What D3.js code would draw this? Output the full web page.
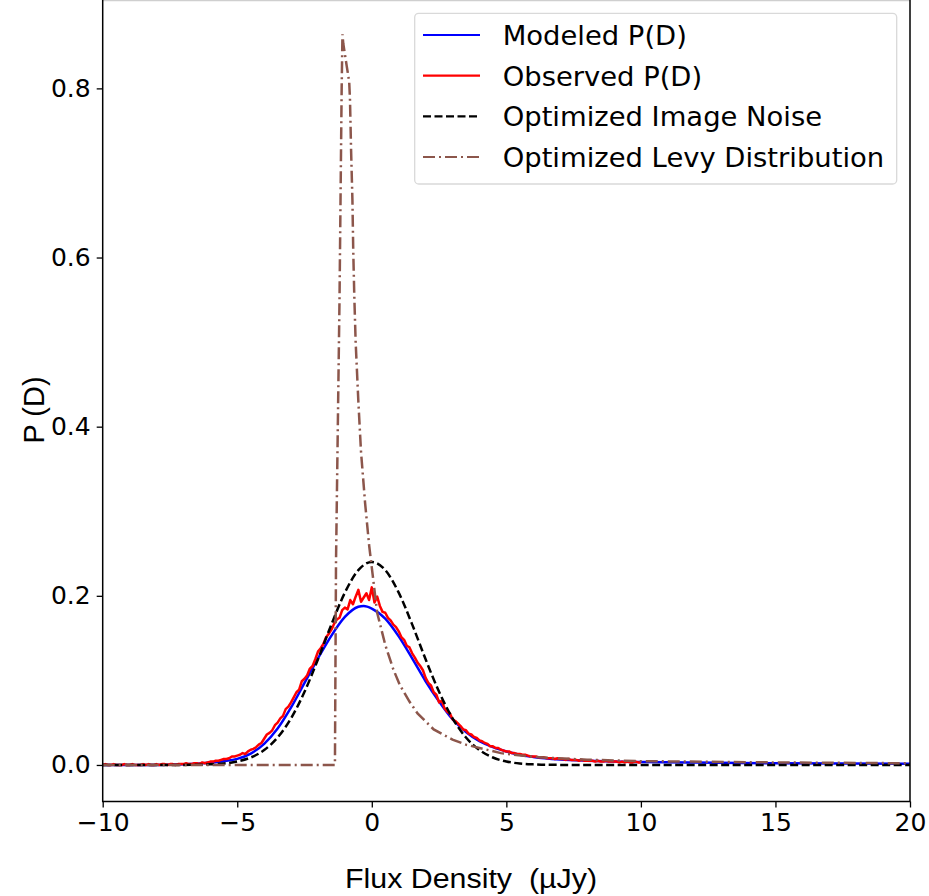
<!DOCTYPE html>
<html>
<head>
<meta charset="utf-8">
<script src="https://cdn.jsdelivr.net/npm/d3@7"></script>
<style>
  body { margin: 0; background: #fff; }
</style>
</head>
<body>
<div id="chart"></div>
<script>
// Modeled P(D): [flux, probability]
const modeledPD = [[-10,0],[-9,0],[-8,0.0001],[-7.5,0.0003],[-7,0.0007],[-6.5,0.0015],[-6,0.0028],
  [-5.5,0.0045],[-5,0.0072],[-4.5,0.0135],[-4,0.025],[-3.5,0.043],[-3,0.068],[-2.5,0.097],[-2,0.126],
  [-1.5,0.153],[-1,0.175],[-0.5,0.187],[-0.3,0.188],[0,0.185],[0.5,0.173],[1,0.152],[1.5,0.126],
  [2,0.099],[2.5,0.075],[3,0.054],[3.5,0.039],[4,0.028],[4.5,0.021],[5,0.016],[5.5,0.012],[6,0.0095],
  [7,0.0065],[8,0.005],[9,0.004],[10,0.0035],[12,0.0028],[15,0.002],[20,0.0014]];

// Observed P(D): one value every 0.1 from -10 to 10
const observedStart = -10, observedStep = 0.1;
const observedPD = [
  0.000,0.001,0.000,0.000,0.001,0.000,0.000,0.000,0.001,0.000,
  0.000,0.001,0.000,0.000,0.000,0.001,0.000,0.001,0.000,0.000,
  0.001,0.000,0.001,0.001,0.000,0.001,0.001,0.000,0.001,0.001,
  0.001,0.002,0.001,0.001,0.002,0.002,0.001,0.003,0.002,0.003,
  0.004,0.004,0.005,0.005,0.006,0.007,0.007,0.008,0.010,0.010,
  0.011,0.012,0.014,0.013,0.016,0.018,0.019,0.021,0.024,0.026,
  0.031,0.036,0.038,0.041,0.047,0.050,0.055,0.058,0.066,0.069,
  0.074,0.080,0.086,0.089,0.099,0.102,0.106,0.114,0.117,0.125,
  0.134,0.138,0.143,0.151,0.155,0.160,0.167,0.172,0.174,0.183,
  0.186,0.184,0.195,0.190,0.199,0.207,0.193,0.198,0.203,0.195,
  0.210,0.192,0.199,0.188,0.181,0.180,0.174,0.171,0.166,0.163,
  0.158,0.151,0.148,0.141,0.139,0.132,0.127,0.121,0.117,0.112,
  0.103,0.097,0.094,0.086,0.083,0.074,0.076,0.067,0.063,0.061,
  0.054,0.052,0.049,0.046,0.042,0.041,0.037,0.036,0.033,0.032,
  0.029,0.028,0.026,0.025,0.022,0.022,0.020,0.020,0.018,0.017,
  0.016,0.016,0.014,0.014,0.013,0.013,0.012,0.012,0.011,0.010,
  0.010,0.010,0.009,0.009,0.009,0.008,0.008,0.008,0.007,0.008,
  0.007,0.007,0.006,0.007,0.006,0.006,0.006,0.005,0.006,0.005,
  0.005,0.005,0.005,0.004,0.005,0.004,0.004,0.005,0.004,0.004,
  0.004,0.004,0.003,0.004,0.003,0.004,0.003,0.003,0.004,0.003,
  0.003];

// Optimized image noise
const noisePD = [[-10,0],[-8,0],[-7,0.0001],[-6.5,0.0002],[-6,0.0007],[-5.5,0.0017],[-5,0.0041],
  [-4.5,0.0088],[-4,0.0176],[-3.5,0.0325],[-3,0.0552],[-2.5,0.0865],[-2,0.1249],[-1.5,0.1662],
  [-1,0.2038],[-0.5,0.2304],[0,0.240],[0.5,0.2304],[1,0.2038],[1.5,0.1662],[2,0.1249],[2.5,0.0865],
  [3,0.0552],[3.5,0.0325],[4,0.0176],[4.5,0.0088],[5,0.0041],[5.5,0.0017],[6,0.0007],[6.5,0.0002],
  [7,0.0001],[8,0],[20,0]];

// Optimized Levy distribution
const levyPD = [[-10,0],[-1.37,0],[-1.33,0.24],[-1.2,0.55],[-1.12,0.8],[-1.09,0.864],[-1.06,0.853],
  [-0.93,0.826],[-0.84,0.808],[-0.81,0.786],[-0.77,0.727],[-0.72,0.668],[-0.69,0.609],[-0.65,0.554],
  [-0.6,0.5],[-0.5,0.43],[-0.4,0.37],[-0.25,0.31],[-0.1,0.26],[0.05,0.22],[0.2,0.18],[0.5,0.142],
  [0.8,0.113],[1.05,0.094],[1.4,0.075],[1.7,0.061],[2.3,0.042],[3,0.030],[3.5,0.024],[4.8,0.014],
  [6,0.0095],[8,0.0062],[10,0.0045],[15,0.003],[20,0.002]];

const xTicks = [-10, -5, 0, 5, 10, 15, 20];
const yTicks = [0, 0.2, 0.4, 0.6, 0.8];

const legendItems = [
  {label: "Modeled P(D)", color: "#0000ff", dash: null},
  {label: "Observed P(D)", color: "#ff0000", dash: null},
  {label: "Optimized Image Noise", color: "#000000", dash: "8,3.5"},
  {label: "Optimized Levy Distribution", color: "#8c564b", dash: "12,4,2,4"}
];

const width = 929, height = 896;
const plot = {left: 102.7, right: 910, top: 0, bottom: 801.5};

const svg = d3.select("#chart").append("svg")
  .attr("width", width)
  .attr("height", height);

const x = d3.scaleLinear().domain([-10, 20]).range([plot.left, plot.right]);
const y = d3.scaleLinear().domain([-0.0432, 0.9045]).range([plot.bottom, plot.top]);

svg.append("clipPath").attr("id", "clip")
  .append("rect")
  .attr("x", plot.left).attr("y", plot.top)
  .attr("width", plot.right - plot.left).attr("height", plot.bottom - plot.top);

const line = d3.line().x(d => x(d[0])).y(d => y(d[1]));
const smooth = d3.line().x(d => x(d[0])).y(d => y(d[1])).curve(d3.curveMonotoneX);

const observed = observedPD.map((v, i) => [observedStart + i * observedStep, v]);

const g = svg.append("g").attr("clip-path", "url(#clip)");

g.append("path").datum(modeledPD)
  .attr("d", smooth).attr("fill", "none")
  .attr("stroke", "#0000ff").attr("stroke-width", 2.5);

g.append("path").datum(observed)
  .attr("d", line).attr("fill", "none")
  .attr("stroke", "#ff0000").attr("stroke-width", 2.5)
  .attr("stroke-linejoin", "round");

g.append("path").datum(noisePD)
  .attr("d", smooth).attr("fill", "none")
  .attr("stroke", "#000").attr("stroke-width", 2.5)
  .attr("stroke-dasharray", "8,3.5");

g.append("path").datum(levyPD)
  .attr("d", line).attr("fill", "none")
  .attr("stroke", "#8c564b").attr("stroke-width", 2.5)
  .attr("stroke-dasharray", "12,4,2,4");

// axes
const xAxis = svg.append("g")
  .attr("transform", `translate(0,${plot.bottom})`)
  .call(d3.axisBottom(x).tickValues(xTicks).tickSize(6).tickPadding(6)
    .tickFormat(d => d < 0 ? "\u2212" + Math.abs(d) : d));

const yAxis = svg.append("g")
  .attr("transform", `translate(${plot.left},0)`)
  .call(d3.axisLeft(y).tickValues(yTicks).tickSize(6).tickPadding(6)
    .tickFormat(d3.format(".1f")));

[xAxis, yAxis].forEach(a => {
  a.select(".domain").remove();
  a.selectAll(".tick line").attr("stroke", "#000").attr("stroke-width", 1.3);
  a.selectAll(".tick text")
    .attr("fill", "#000")
    .style("font-family", "'DejaVu Sans', sans-serif")
    .style("font-size", "25px");
});

// spines
svg.append("line").attr("x1", plot.left).attr("x2", plot.right)
  .attr("y1", 0.5).attr("y2", 0.5).attr("stroke", "#cfcfcf").attr("stroke-width", 1.3);
svg.append("path")
  .attr("d", `M${plot.left},${plot.top}V${plot.bottom}H${plot.right}V${plot.top}`)
  .attr("fill", "none").attr("stroke", "#000").attr("stroke-width", 1.5);

// axis labels
svg.append("text")
  .attr("x", 471).attr("y", 888)
  .attr("text-anchor", "middle")
  .attr("textLength", 252).attr("lengthAdjust", "spacingAndGlyphs")
  .style("white-space", "pre")
  .style("font-family", "'Liberation Sans', Arial, sans-serif")
  .style("font-size", "27px")
  .text("Flux Density  (\u00b5Jy)");

svg.append("text")
  .attr("transform", "translate(44,410) rotate(-90)")
  .attr("text-anchor", "middle")
  .style("font-family", "'Liberation Sans', Arial, sans-serif")
  .style("font-size", "29px")
  .text("P (D)");

// legend
const legend = svg.append("g");
legend.append("rect")
  .attr("x", 414.7).attr("y", 13.3)
  .attr("width", 482).attr("height", 170.7)
  .attr("rx", 4)
  .attr("fill", "#fff").attr("fill-opacity", 0.8)
  .attr("stroke", "#d9d9d9").attr("stroke-width", 1.3);

const rowY = d3.scalePoint().domain(legendItems.map(d => d.label)).range([35, 157]);

const rows = legend.selectAll(".row").data(legendItems).enter()
  .append("g").attr("class", "row")
  .attr("transform", d => `translate(0,${rowY(d.label)})`);

rows.append("line")
  .attr("x1", 423).attr("x2", 480)
  .attr("stroke", d => d.color).attr("stroke-width", 2.2)
  .attr("stroke-dasharray", d => d.dash);

rows.append("text")
  .attr("x", 502.7).attr("dy", "0.36em")
  .style("font-family", "'DejaVu Sans', sans-serif")
  .style("font-size", "27.4px")
  .text(d => d.label);
</script>
</body>
</html>
